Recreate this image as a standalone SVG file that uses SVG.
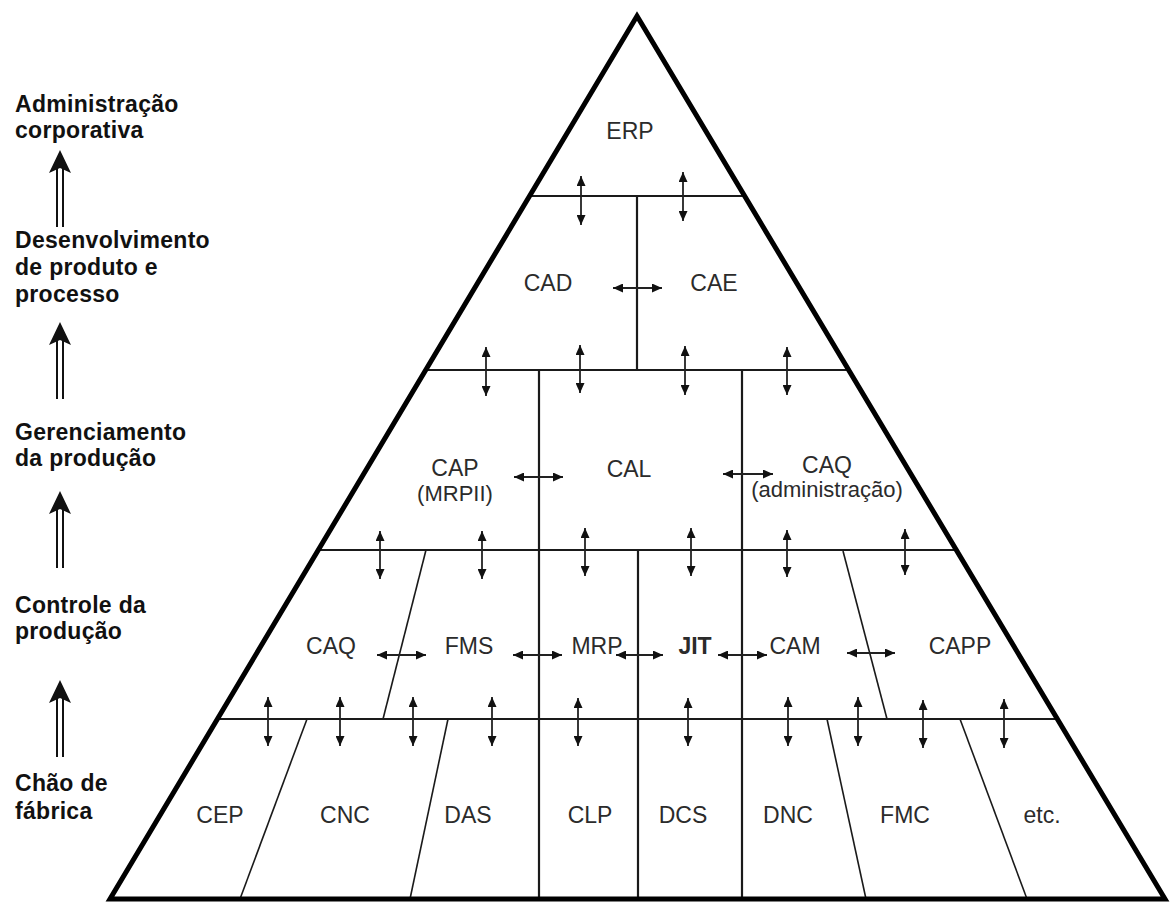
<svg xmlns="http://www.w3.org/2000/svg" width="1172" height="904" viewBox="0 0 1172 904">
<style>
  .lbl { font-family: "Liberation Sans", Arial, sans-serif; font-size: 23px; fill: #2b2b2b; text-anchor: middle; }
  .sub { font-size: 22px; }
  .bold { font-weight: bold; }
  .side { font-family: "Liberation Sans", Arial, sans-serif; font-size: 23px; font-weight: bold; fill: #111; letter-spacing: 0.3px; }
  .frame { fill: none; stroke: #000; stroke-width: 5; stroke-linejoin: miter; }
  .div { stroke: #1a1a1a; stroke-width: 2.2; fill: none; }
  .slant { stroke: #1a1a1a; stroke-width: 1.6; fill: none; }
  .dbl { stroke: #222; stroke-width: 1.8; fill: none; marker-start: url(#ah); marker-end: url(#ah); }
  .up line { stroke: #111; stroke-width: 2; }
  .up path { fill: #111; }
</style>
<defs>
  <marker id="ah" viewBox="0 0 10 9" refX="10" refY="4.5" markerWidth="10" markerHeight="9" markerUnits="userSpaceOnUse" orient="auto-start-reverse">
    <path d="M0,0 L10,4.5 L0,9 Z" fill="#111"/>
  </marker>
  <g id="bigup" class="up">
    <line x1="-3" y1="16" x2="-3" y2="77"/>
    <line x1="3" y1="16" x2="3" y2="77"/>
    <path d="M0,0 L11,23 L0,18 L-11,23 Z"/>
  </g>
</defs>
<rect width="1172" height="904" fill="#fff"/>

<!-- pyramid structure -->
<g id="pyramid">
  <line class="div" x1="529.6" y1="196" x2="744.6" y2="196"/>
  <line class="div" x1="425.7" y1="370" x2="848.7" y2="370"/>
  <line class="div" x1="318.3" y1="550" x2="956.3" y2="550"/>
  <line class="div" x1="217.5" y1="719" x2="1057.4" y2="719"/>
  <line class="div" x1="637" y1="196" x2="637" y2="370"/>
  <line class="div" x1="539" y1="370" x2="539" y2="899"/>
  <line class="div" x1="742" y1="370" x2="742" y2="899"/>
  <line class="div" x1="638" y1="550" x2="638" y2="899"/>
  <line class="slant" x1="426" y1="550" x2="383" y2="719"/>
  <line class="slant" x1="843" y1="551" x2="887" y2="719"/>
  <line class="slant" x1="307" y1="719" x2="240" y2="899"/>
  <line class="slant" x1="448" y1="719" x2="410" y2="899"/>
  <line class="slant" x1="827" y1="719" x2="866" y2="899"/>
  <line class="slant" x1="960" y1="719" x2="1027" y2="899"/>
  <polygon class="frame" points="637,16 1165,899 110,899"/>
</g>

<!-- connectors -->
<g id="connectors">
  <line class="dbl" x1="581" y1="176" x2="581" y2="225"/>
  <line class="dbl" x1="683" y1="172" x2="683" y2="221"/>
  <line class="dbl" x1="613" y1="288" x2="662" y2="288"/>

  <line class="dbl" x1="486" y1="347" x2="486" y2="396"/>
  <line class="dbl" x1="580" y1="345" x2="580" y2="393"/>
  <line class="dbl" x1="685" y1="346" x2="685" y2="395"/>
  <line class="dbl" x1="787" y1="347" x2="787" y2="395"/>
  <line class="dbl" x1="514" y1="477" x2="563" y2="477"/>
  <line class="dbl" x1="723" y1="474" x2="773" y2="474"/>

  <line class="dbl" x1="380" y1="531" x2="380" y2="579"/>
  <line class="dbl" x1="482" y1="531" x2="482" y2="579"/>
  <line class="dbl" x1="585" y1="528" x2="585" y2="576"/>
  <line class="dbl" x1="691" y1="528" x2="691" y2="576"/>
  <line class="dbl" x1="787" y1="530" x2="787" y2="577"/>
  <line class="dbl" x1="905" y1="529" x2="905" y2="575"/>
  <line class="dbl" x1="377" y1="655" x2="426" y2="655"/>
  <line class="dbl" x1="513" y1="655" x2="562" y2="655"/>
  <line class="dbl" x1="616" y1="655" x2="663" y2="655"/>
  <line class="dbl" x1="718" y1="655" x2="767" y2="655"/>
  <line class="dbl" x1="847" y1="653" x2="895" y2="653"/>

  <line class="dbl" x1="268" y1="697" x2="268" y2="746"/>
  <line class="dbl" x1="340" y1="697" x2="340" y2="746"/>
  <line class="dbl" x1="413" y1="697" x2="413" y2="746"/>
  <line class="dbl" x1="492" y1="697" x2="492" y2="746"/>
  <line class="dbl" x1="578" y1="698" x2="578" y2="746"/>
  <line class="dbl" x1="688" y1="698" x2="688" y2="746"/>
  <line class="dbl" x1="788" y1="697" x2="788" y2="746"/>
  <line class="dbl" x1="858" y1="697" x2="858" y2="746"/>
  <line class="dbl" x1="923" y1="700" x2="923" y2="748"/>
  <line class="dbl" x1="1004" y1="699" x2="1004" y2="748"/>

  <use href="#bigup" x="60" y="150"/>
  <use href="#bigup" x="60" y="322"/>
  <use href="#bigup" x="60" y="491"/>
  <use href="#bigup" x="60" y="680"/>
</g>

<!-- nodes -->
<g id="n-erp"><text class="lbl" x="630" y="139">ERP</text></g>
<g id="n-cad"><text class="lbl" x="548" y="291">CAD</text></g>
<g id="n-cae"><text class="lbl" x="714" y="291">CAE</text></g>
<g id="n-cap"><text class="lbl" x="455" y="476">CAP</text><text class="lbl sub" x="455" y="501">(MRPII)</text></g>
<g id="n-cal"><text class="lbl" x="629" y="477">CAL</text></g>
<g id="n-caq-adm"><text class="lbl" x="827" y="473">CAQ</text><text class="lbl sub" x="827" y="497">(administração)</text></g>
<g id="n-caq"><text class="lbl" x="331" y="654">CAQ</text></g>
<g id="n-fms"><text class="lbl" x="469" y="654">FMS</text></g>
<g id="n-mrp"><text class="lbl" x="597" y="654">MRP</text></g>
<g id="n-jit"><text class="lbl bold" x="695" y="654">JIT</text></g>
<g id="n-cam"><text class="lbl" x="795" y="654">CAM</text></g>
<g id="n-capp"><text class="lbl" x="960" y="654">CAPP</text></g>
<g id="n-cep"><text class="lbl" x="220" y="823">CEP</text></g>
<g id="n-cnc"><text class="lbl" x="345" y="823">CNC</text></g>
<g id="n-das"><text class="lbl" x="468" y="823">DAS</text></g>
<g id="n-clp"><text class="lbl" x="590" y="823">CLP</text></g>
<g id="n-dcs"><text class="lbl" x="683" y="823">DCS</text></g>
<g id="n-dnc"><text class="lbl" x="788" y="823">DNC</text></g>
<g id="n-fmc"><text class="lbl" x="905" y="823">FMC</text></g>
<g id="n-etc"><text class="lbl" x="1042" y="823">etc.</text></g>

<g id="side-adm"><text class="side" x="15" y="112">Administração</text><text class="side" x="15" y="138">corporativa</text></g>
<g id="side-dev"><text class="side" x="15" y="248">Desenvolvimento</text><text class="side" x="15" y="275">de produto e</text><text class="side" x="15" y="302">processo</text></g>
<g id="side-ger"><text class="side" x="15" y="440">Gerenciamento</text><text class="side" x="15" y="466">da produção</text></g>
<g id="side-ctl"><text class="side" x="15" y="613">Controle da</text><text class="side" x="15" y="639">produção</text></g>
<g id="side-chao"><text class="side" x="15" y="791">Chão de</text><text class="side" x="15" y="819">fábrica</text></g>
</svg>
